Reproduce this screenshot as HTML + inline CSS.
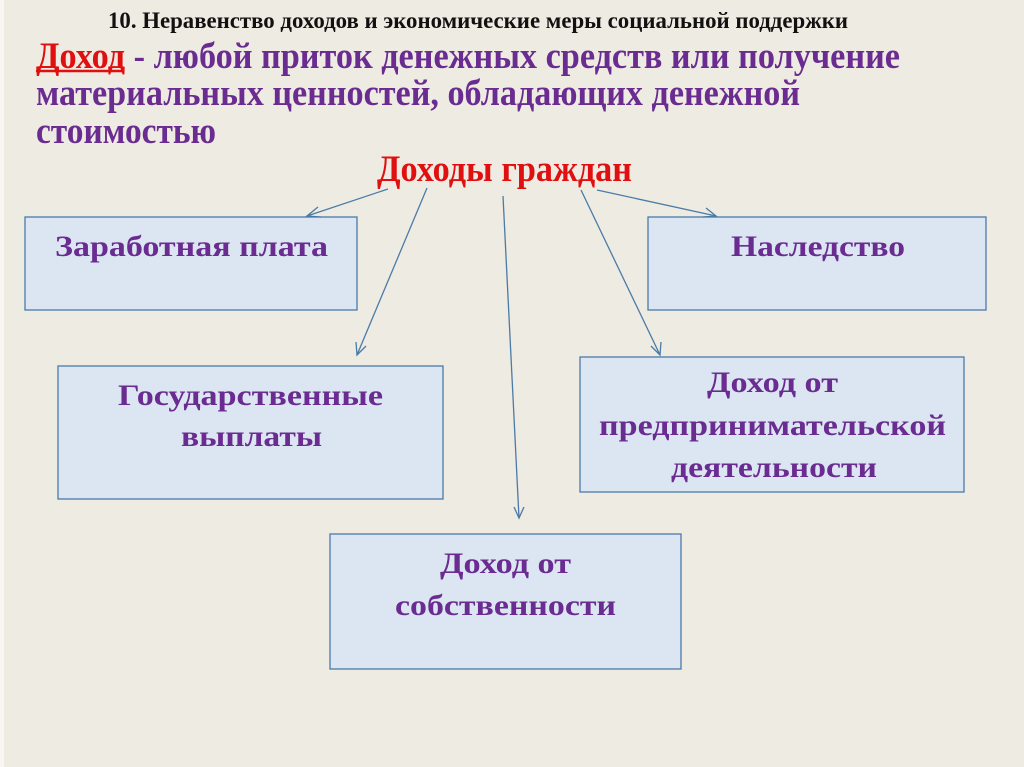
<!DOCTYPE html>
<html><head><meta charset="utf-8"><style>
html,body{margin:0;padding:0;background:#eeebe2;}
svg{display:block;}
text{font-family:"Liberation Serif","Noto Serif CJK SC",serif;font-weight:bold;}
.b{fill:#dce6f2;stroke:#4a7ba7;stroke-width:1.3;}
.p{fill:#6a2c91;font-size:30px;}
.a{stroke:#4a7ba7;stroke-width:1.3;fill:none;}
</style></head><body>
<svg width="1024" height="767" viewBox="0 0 1024 767" xmlns="http://www.w3.org/2000/svg">
<rect x="0" y="0" width="1024" height="767" fill="#eeebe2"/>
<rect x="0" y="0" width="4" height="767" fill="#f7f6f2"/>
<text x="108" y="28" font-size="23" fill="#111" textLength="740" lengthAdjust="spacingAndGlyphs">10. Неравенство доходов и экономические меры социальной поддержки</text>
<text x="36" y="68" font-size="37" fill="#6a2c91" textLength="864" lengthAdjust="spacingAndGlyphs"><tspan fill="#e01010">Доход</tspan> - любой приток денежных средств или получение</text>
<line x1="36" y1="71" x2="124" y2="71" stroke="#e01010" stroke-width="2.5"/>
<text x="36" y="105" font-size="37" fill="#6a2c91" textLength="764" lengthAdjust="spacingAndGlyphs">материальных ценностей, обладающих денежной</text>
<text x="36" y="143" font-size="37" fill="#6a2c91" textLength="180" lengthAdjust="spacingAndGlyphs">стоимостью</text>
<text x="377" y="181" font-size="37" fill="#e01010" textLength="255" lengthAdjust="spacingAndGlyphs">Доходы граждан</text>

<rect class="b" x="25" y="217" width="332" height="93"/>
<rect class="b" x="648" y="217" width="338" height="93"/>
<rect class="b" x="58" y="366" width="385" height="133"/>
<rect class="b" x="580" y="357" width="384" height="135"/>
<rect class="b" x="330" y="534" width="351" height="135"/>

<text class="p" x="55" y="256" textLength="273" lengthAdjust="spacingAndGlyphs">Заработная плата</text>
<text class="p" x="731" y="256" textLength="174" lengthAdjust="spacingAndGlyphs">Наследство</text>
<text class="p" x="118" y="405" textLength="265" lengthAdjust="spacingAndGlyphs">Государственные</text>
<text class="p" x="181" y="446" textLength="141" lengthAdjust="spacingAndGlyphs">выплаты</text>
<text class="p" x="707" y="392" textLength="131" lengthAdjust="spacingAndGlyphs">Доход от</text>
<text class="p" x="599" y="435" textLength="347" lengthAdjust="spacingAndGlyphs">предпринимательской</text>
<text class="p" x="671" y="477" textLength="206" lengthAdjust="spacingAndGlyphs">деятельности</text>
<text class="p" x="440" y="573" textLength="131" lengthAdjust="spacingAndGlyphs">Доход от</text>
<text class="p" x="395" y="615" textLength="221" lengthAdjust="spacingAndGlyphs">собственности</text>

<g class="a">
<line x1="388" y1="189" x2="307" y2="216"/><path d="M318 207 L307 216 L321 217"/>
<line x1="427" y1="188" x2="357" y2="355"/><path d="M356 342 L357 355 L366 346"/>
<line x1="503" y1="196" x2="519" y2="518"/><path d="M514 507 L519 518 L524 507"/>
<line x1="581" y1="190" x2="660" y2="355"/><path d="M651 346 L660 355 L661 342"/>
<line x1="597" y1="190" x2="716" y2="216"/><path d="M703 217 L716 216 L706 208"/>
</g>
</svg>
</body></html>
